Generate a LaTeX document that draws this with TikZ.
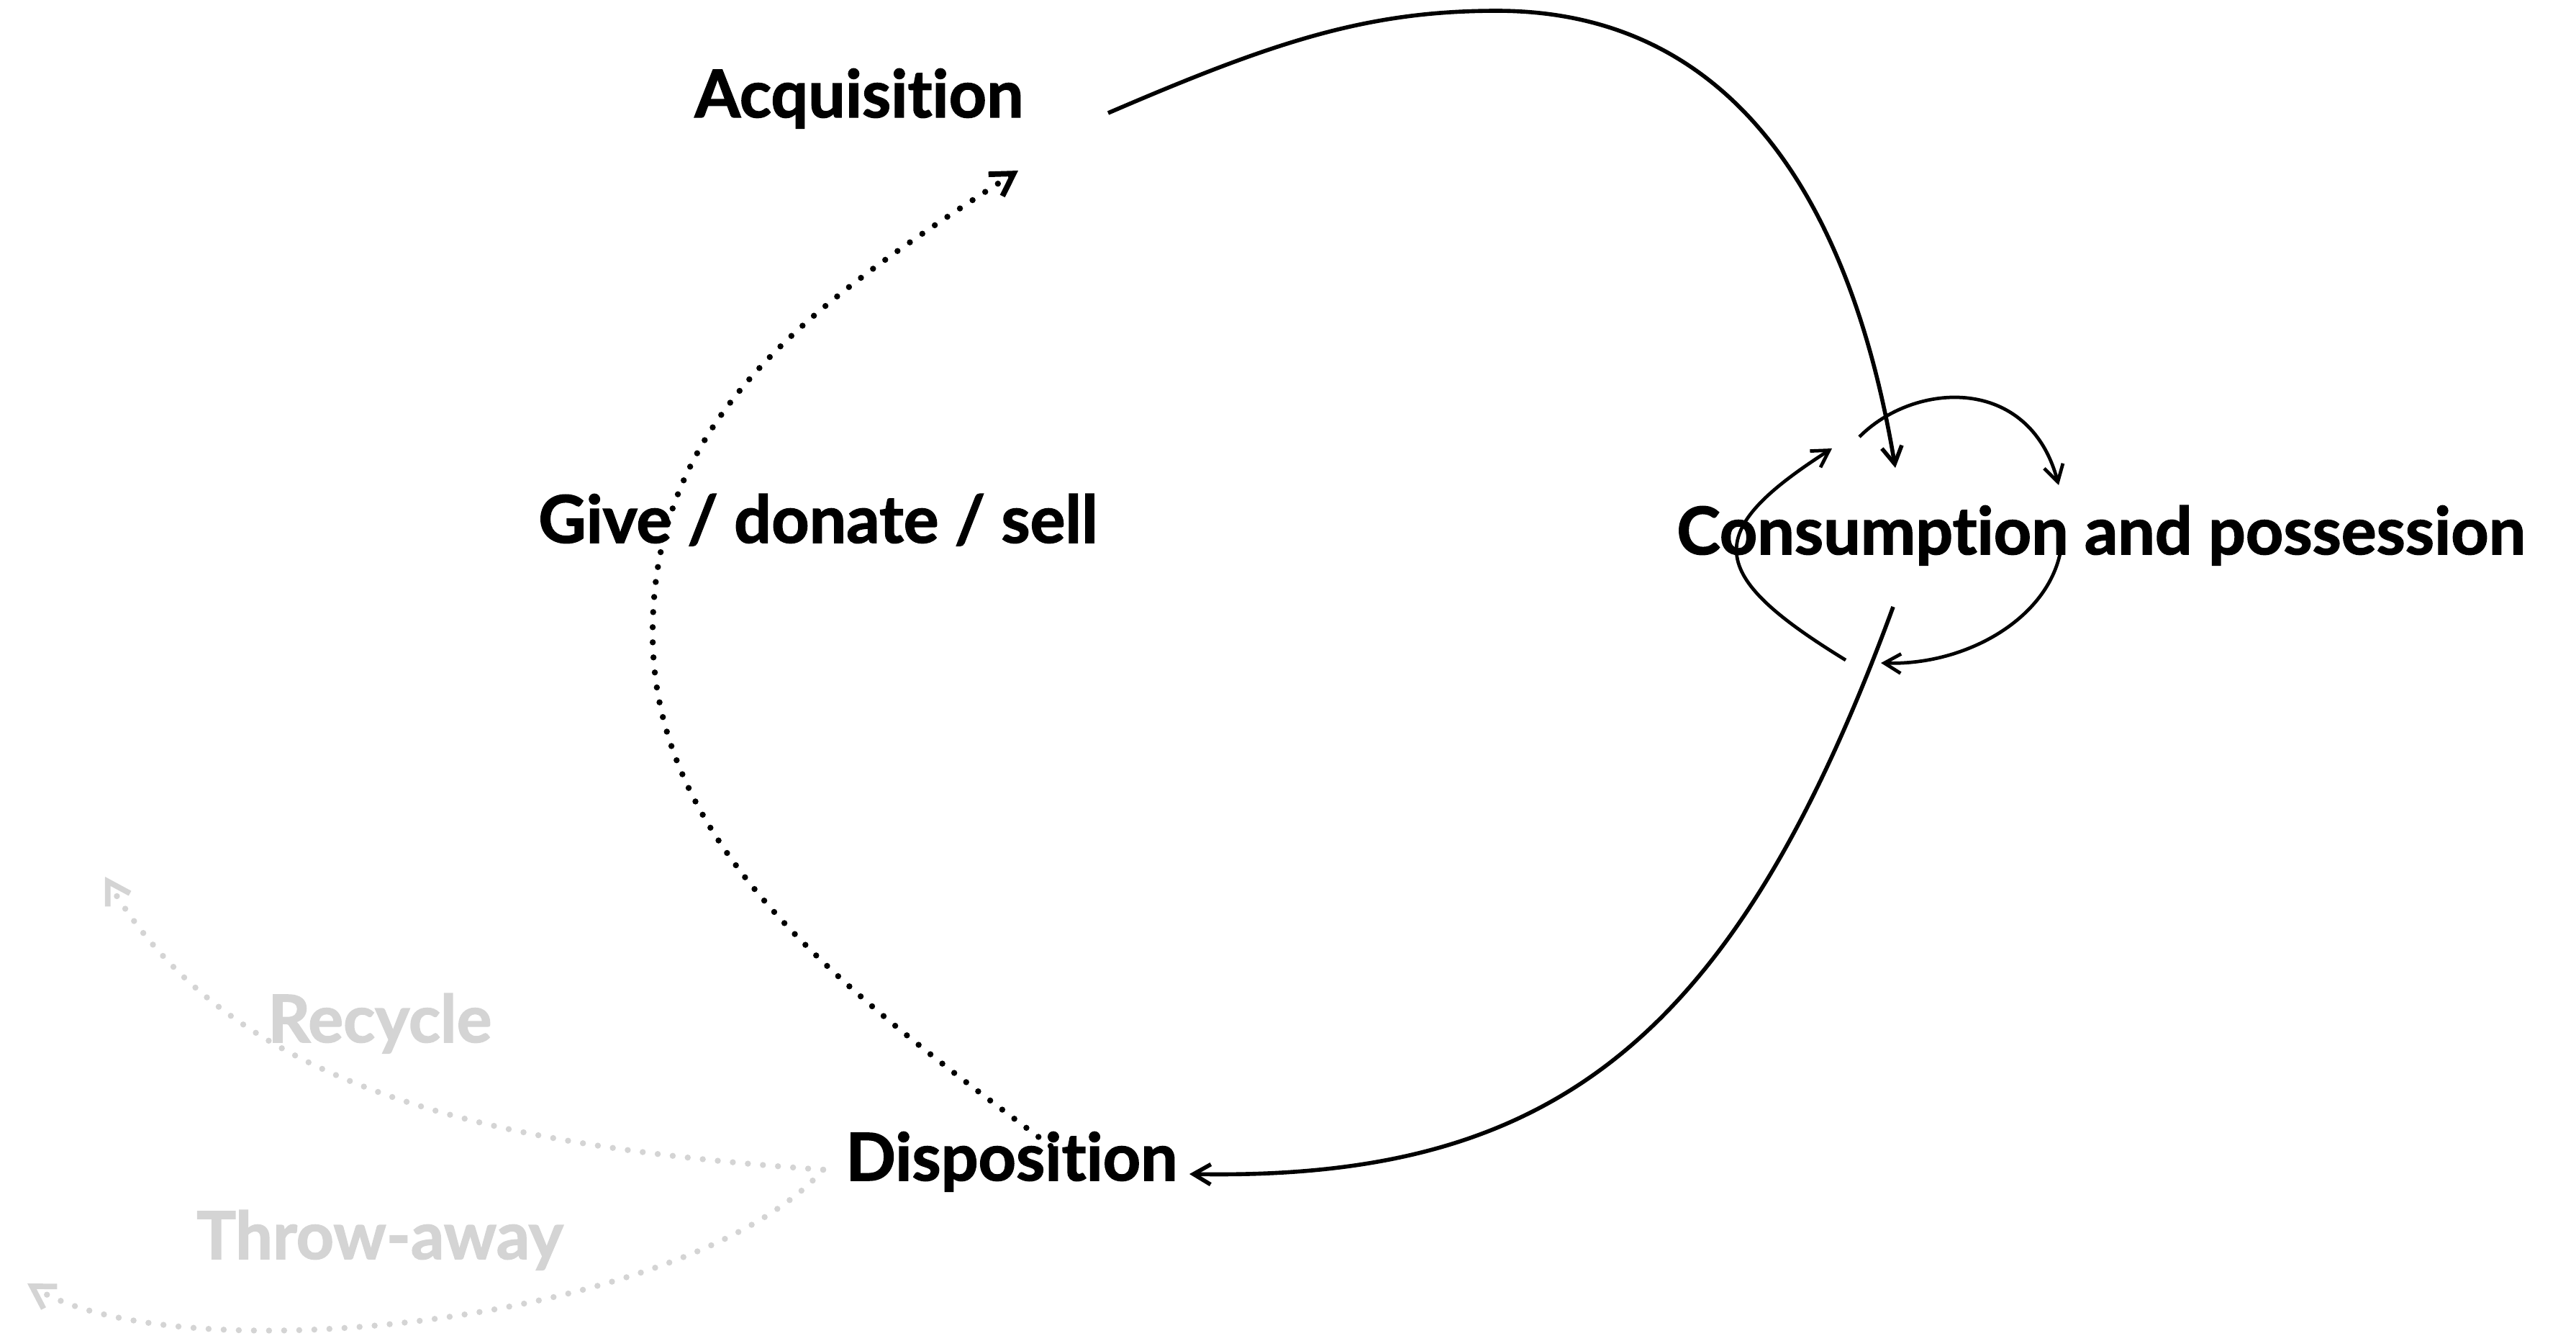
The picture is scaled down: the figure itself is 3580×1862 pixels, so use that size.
\documentclass[tikz,border=0pt]{standalone}
\usepackage{fontspec}
\setmainfont{Lato}[Ligatures=NoCommon, BoldFeatures={FakeBold=1.6}]
\usetikzlibrary{arrows.meta}
\definecolor{faded}{RGB}{212,212,212}
\tikzset{
  stagelabel/.style={font=\fontsize{26}{30}\selectfont\bfseries, inner sep=0pt, anchor=base},
  fadedlabel/.style={stagelabel, text=faded},
  flow/.style={line width=1.6pt, -{Straight Barb[length=2.4mm,width=2.8mm]}},
  loopflow/.style={line width=1.35pt, -{Straight Barb[length=2.3mm,width=2.7mm]}},
  dotflow/.style={line width=2.4pt, line cap=round, dash pattern=on 0pt off 2.1mm,
    -{Straight Barb[length=3mm,width=3.6mm,line width=2.2pt]}},
  fadedflow/.style={dotflow, draw=faded},
}
\begin{document}
\begin{tikzpicture}[x=0.1mm, y=-0.1mm]
  \useasboundingbox (0,0) rectangle (3580,1862);

  % stage labels
  \node[stagelabel] (acq)  at (1194,163)  {Acquisition};
  \node[stagelabel] (cons) at (2920,770)  {Consumption and possession};
  \node[stagelabel] (disp) at (1406,1640) {Disposition};
  \node[stagelabel] (give) at (1137,754)  {Give / donate / sell};
  \node[fadedlabel] (recy) at (528,1448)  {Recycle};
  \node[fadedlabel] (thro) at (528,1749)  {Throw-away};

  % connector end points
  \coordinate (acq-out)   at (1540,157);
  \coordinate (acq-in)    at (1415,237);
  \coordinate (cons-in)   at (2634,650);
  \coordinate (cons-out)  at (2631,843);
  \coordinate (disp-in)   at (1653,1631);
  \coordinate (disp-out)  at (1460,1592);
  \coordinate (disp-side) at (1144,1625);
  \coordinate (recy-end)  at (146,1218);
  \coordinate (thro-end)  at (38,1783);
  \coordinate (loop-a)    at (2584,607);
  \coordinate (loop-b)    at (2861,674);
  \coordinate (loop-c)    at (2866,745);
  \coordinate (loop-d)    at (2614,921);
  \coordinate (loop-e)    at (2565,917);
  \coordinate (loop-f)    at (2546,623);

  % acquisition -> consumption
  \draw[flow] (acq-out) .. controls (1770,58) and (1900,15) .. (2080,15)
                        .. controls (2430,15) and (2578,315) .. (cons-in);
  % consumption -> disposition
  \draw[flow] (cons-out) .. controls (2407,1453) and (2153,1640) .. (disp-in);

  % consumption cycle
  \draw[loopflow] (loop-a) .. controls (2660,530) and (2820,520) .. (loop-b);
  \draw[loopflow] (loop-c) .. controls (2862,850) and (2740,925) .. (loop-d);
  \draw[loopflow] (loop-e) .. controls (2369,797) and (2365,739) .. (loop-f);

  % give / donate / sell back to acquisition
  \draw[dotflow] (disp-out) .. controls (1180,1382) and (907,1180) .. (907,880)
                            .. controls (907,580) and (1121,426) .. (acq-in);

  % recycle and throw-away
  \draw[fadedflow] (disp-side) .. controls (694,1593) and (325,1519) .. (recy-end);
  \draw[fadedflow] (disp-side) .. controls (956,1836) and (250,1913) .. (thro-end);
\end{tikzpicture}
\end{document}
